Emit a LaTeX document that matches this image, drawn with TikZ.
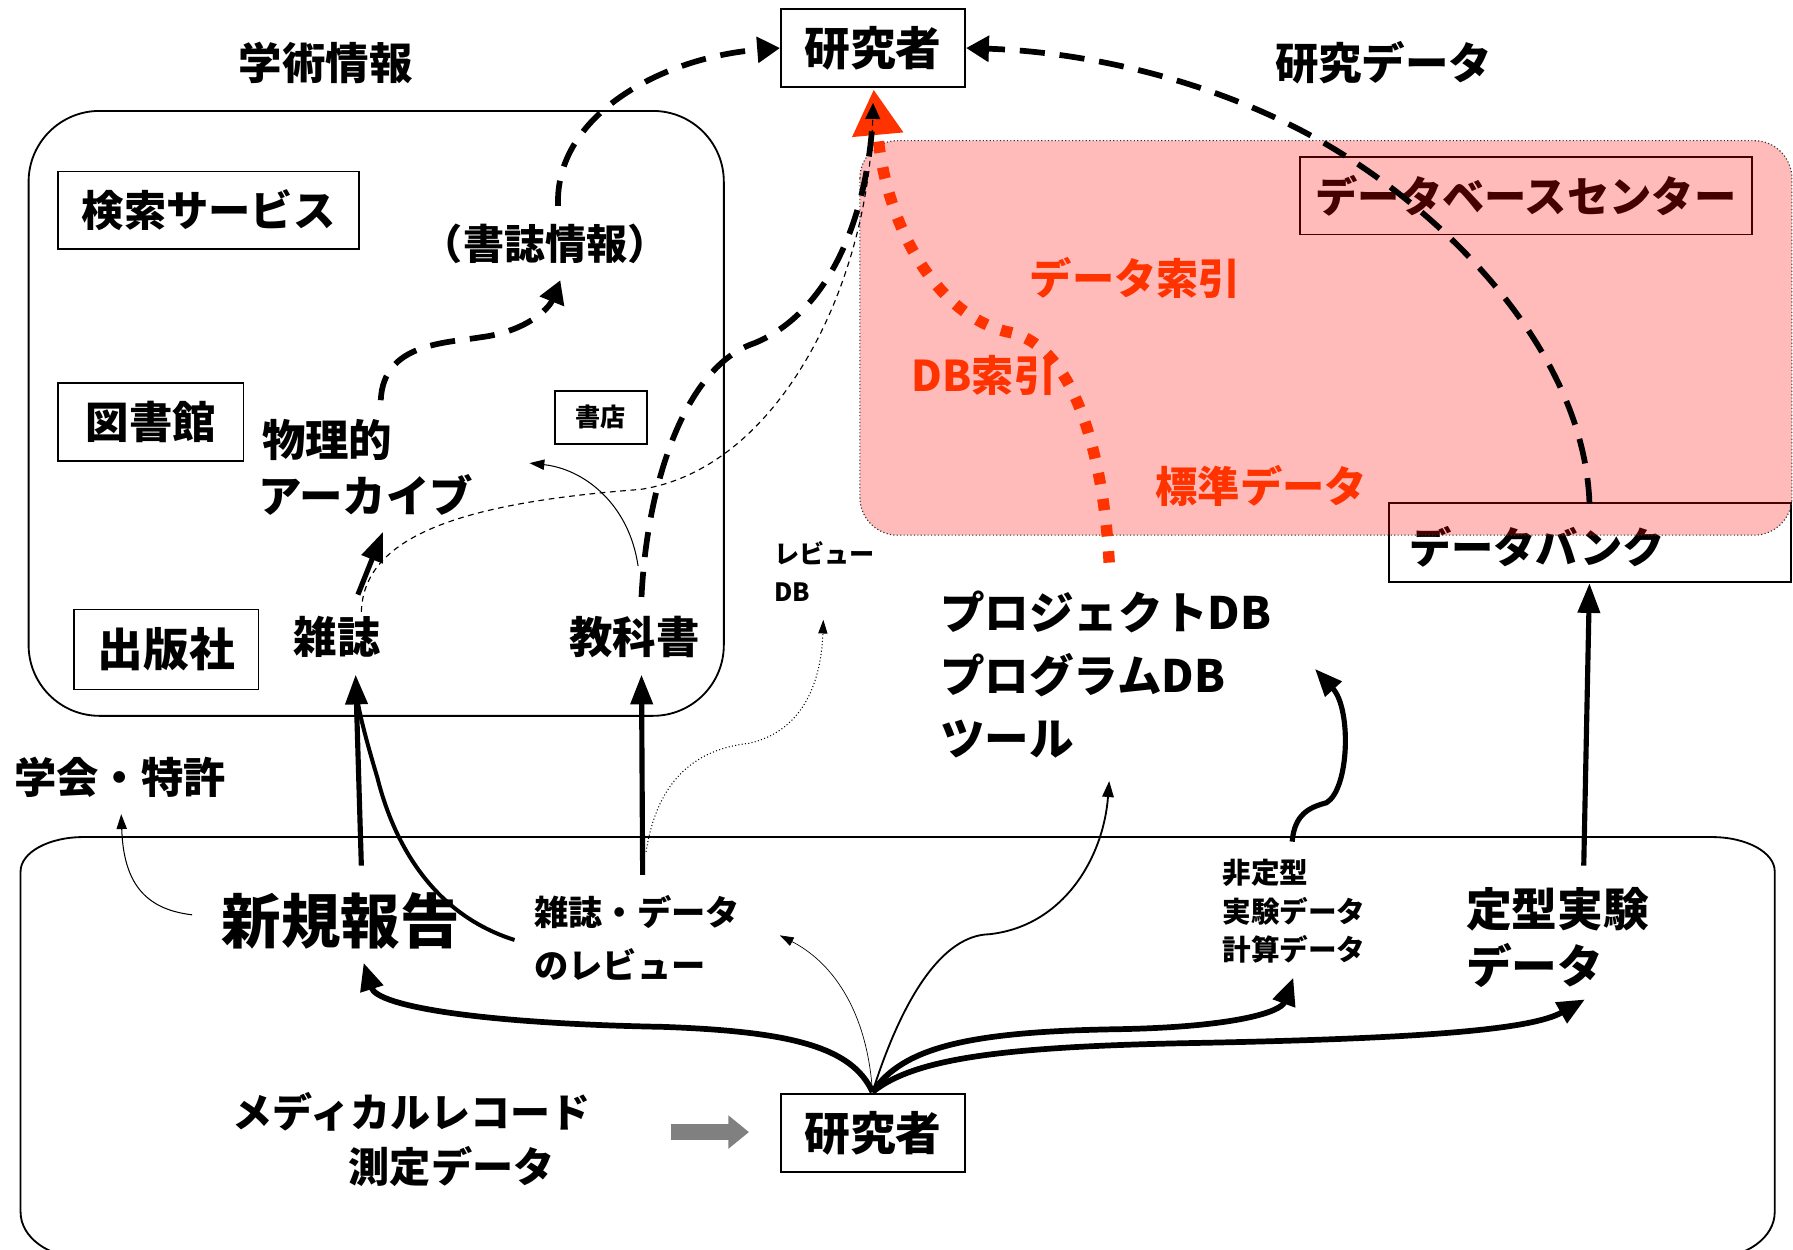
\documentclass[tikz,border=0pt]{standalone}
\usepackage{fontspec}
\setmainfont{Noto Sans CJK JP}
\usetikzlibrary{arrows.meta}
\definecolor{redish}{RGB}{255,51,0}
\definecolor{grayarr}{RGB}{128,128,128}
\newcommand\sz[2]{\fontsize{#1}{#2}\selectfont\bfseries}
\begin{document}
\begin{tikzpicture}[x=1pt,y=-1pt,
  box/.style={draw, line width=1.6pt, inner sep=0pt},
  region/.style={draw, line width=1.6pt},
  tdash/.style={line width=5pt, dash pattern=on 22pt off 13pt},
  rdot/.style={draw=redish, line width=10pt, dash pattern=on 10pt off 13pt},
  solidarr/.style={line width=4.5pt, -{Triangle[length=26pt,width=19pt]}},
  thinarr/.style={line width=0.9pt, -{Triangle[length=13pt,width=9pt]}},
  fan/.style={line width=5pt, -{Triangle[length=24pt,width=20pt]}},
  dtip/.style={-{Triangle[length=20pt,width=22pt]}},
]
\useasboundingbox (0,0) rectangle (1568,1093);
\fill[white] (0,0) rectangle (1568,1093);

% regions
\draw[region, rounded corners=62pt] (25,97) rectangle (633,626);
\draw[region] (18,762) arc[start angle=180,end angle=270,x radius=55,y radius=30] -- (1497,732)
  arc[start angle=270,end angle=360,x radius=55,y radius=30] -- (1552,1060)
  arc[start angle=0,end angle=90,x radius=55,y radius=40] -- (73,1100)
  arc[start angle=90,end angle=180,x radius=55,y radius=40] -- cycle;

% nodes
\node[box, minimum width=161pt, minimum height=68pt, font=\sz{40}{40}] (res1) at (763.5,42) {研究者};
\node[font=\sz{38}{38}] (gakujutsu) at (285,55) {学術情報};
\node[font=\sz{38}{38}] (kdata) at (1210,55) {研究データ};
\node[box, minimum width=263pt, minimum height=68pt, font=\sz{37}{37}] (kensaku) at (182.5,184) {検索サービス};
\node[font=\sz{36}{36}] (shoshi) at (477,213) {（書誌情報）};
\node[box, minimum width=162pt, minimum height=68pt, font=\sz{38}{38}] (tosho) at (132,369) {図書館};
\node[font=\sz{38}{38}, anchor=west, inner sep=0pt] (butsu1) at (229,385) {物理的};
\node[font=\sz{38}{38}, anchor=west, inner sep=0pt] (butsu2) at (226,433) {アーカイブ};
\node[box, minimum width=81pt, minimum height=46pt, font=\sz{22}{22}] (shoten) at (525.5,365) {書店};
\node[box, minimum width=161pt, minimum height=70pt, font=\sz{40}{40}] (shuppan) at (145.5,568) {出版社};
\node[font=\sz{38}{38}] (zasshi) at (295,557) {雑誌};
\node[font=\sz{38}{38}] (kyoka) at (555,557) {教科書};
\node[font=\sz{37}{37}] (gakkai) at (105,680) {学会・特許};
\node[font=\sz{22}{33}, align=left, anchor=west, inner sep=0pt] (rdb) at (677,500) {レビュー\\DB};
\node[font=\sz{39}{55}, align=left, anchor=west, inner sep=0pt] (proj) at (822,590) {プロジェクトDB\\プログラムDB\\ツール};
\node[font=\sz{52}{52}] (shinki) at (298,805) {新規報告};
\node[font=\sz{30}{46}, align=left, anchor=west, inner sep=0pt] (zrev) at (467,820) {雑誌・データ\\のレビュー};
\node[font=\sz{25}{33.5}, align=left, anchor=west, inner sep=0pt] (hitei) at (1069,797) {非定型\\実験データ\\計算データ};
\node[font=\sz{40}{50}, align=left, anchor=west, inner sep=0pt] (teikei) at (1282,820) {定型実験\\データ};
\node[font=\sz{35}{35}] (medical) at (360,972) {メディカルレコード};
\node[font=\sz{36}{36}] (sokutei) at (395,1020) {測定データ};
\node[box, minimum width=161pt, minimum height=68pt, font=\sz{40}{40}] (res2) at (763.5,991) {研究者};
\node[box, minimum width=395pt, minimum height=68pt, font=\sz{37}{37}] (dbc) at (1334.5,171) {データベースセンター};
\node[box, minimum width=351pt, minimum height=69pt] (dbank) at (1390.5,474.5) {};
\node[font=\sz{37}{37}, anchor=west, inner sep=0pt] (dbanktxt) at (1232,478) {データバンク};

% gray block arrow medical -> researcher
\coordinate (gStart) at (587,990);
\coordinate (gEnd) at (655,990);
\draw[grayarr, line width=14.5pt, -{Triangle[length=18pt,width=28pt]}] (gStart) -- (gEnd);

% pink region
\filldraw[fill=red, fill opacity=0.27, draw=black!80, line width=1pt, dotted, rounded corners=33pt] (752,123) rectangle (1567,468);

% red labels
\node[font=\sz{37}{37}, text=redish] (rA) at (993,243) {データ索引};
\node[font=\sz{37}{37}, text=redish, anchor=west, inner sep=0pt] (rB) at (797,328) {DB索引};
\node[font=\sz{37}{37}, text=redish] (rC) at (1103,425) {標準データ};

% coordinates
\coordinate (shoshiTop) at (488,180);
\coordinate (butsuTop) at (333,350);
\coordinate (shoshiBot) at (490,245);
\coordinate (kyokaTop) at (561,522);
\coordinate (resBot) at (763.5,100);
\coordinate (resBotTip) at (763.5,90);
\coordinate (projRed) at (970,492);
\coordinate (redTip) at (764,78);
\coordinate (dbankTop) at (1390,440);
\coordinate (zasshiTop) at (316,535);
\coordinate (zasshiArr) at (313,520);
\coordinate (butsuBot) at (335,465);
\coordinate (kyokaThin) at (558,495);
\coordinate (butsuRight) at (463,405);
\coordinate (shinkiTop) at (316,757);
\coordinate (zasshiBot) at (311,590);
\coordinate (zrevLeft) at (450,822);
\coordinate (zrevTop) at (562,765);
\coordinate (kyokaBot) at (561,590);
\coordinate (dotStart) at (565,745);
\coordinate (rdbBot) at (720,542);
\coordinate (shinkiLeft) at (168,800);
\coordinate (gakkaiBot) at (106,712);
\coordinate (fan) at (763,955);
\coordinate (shinkiBot) at (318,842);
\coordinate (zrevRight) at (682,818);
\coordinate (projBot) at (970,683);
\coordinate (hiteiBot) at (1131,855);
\coordinate (teikeiBot) at (1386,874);
\coordinate (teikeiTop) at (1385,757);
\coordinate (dbankBot) at (1390,510);
\coordinate (hiteiTop) at (1130,736);
\coordinate (projRight) at (1150,585);

% red dotted
\draw[rdot, -{Triangle[length=40pt,width=42pt]}] (projRed) .. controls (965,400) and (940,300) .. (880,290) .. controls (820,275) and (775,200) .. (redTip);

% black dashed
\draw[tdash, dtip] (shoshiTop) .. controls (485,100) and (580,50) .. (res1.west);
\draw[tdash, dtip] (butsuTop) .. controls (335,300) and (390,300) .. (420,295) .. controls (460,290) and (480,270) .. (shoshiBot);
\draw[tdash] (kyokaTop) .. controls (566,420) and (600,320) .. (660,300) .. controls (720,275) and (758,200) .. (resBot);
\draw[tdash, dtip] (dbankTop) .. controls (1385,300) and (1250,170) .. (1130,110) .. controls (1040,65) and (940,45) .. (res1.east);
\draw[line width=1pt, dash pattern=on 5pt off 4pt, -{Triangle[length=14pt,width=13pt]}] (zasshiTop) .. controls (318,470) and (400,440) .. (560,428) .. controls (680,410) and (760,250) .. (resBotTip);

% solid arrows
\draw[solidarr] (zasshiArr) -- (butsuBot);
\draw[thinarr] (kyokaThin) .. controls (550,440) and (510,410) .. (butsuRight);
\draw[solidarr] (shinkiTop) -- (zasshiBot);
\draw[line width=3.5pt] (zrevLeft) .. controls (380,800) and (345,740) .. (330,680) .. controls (318,640) and (312,615) .. (311,600);
\draw[solidarr] (zrevTop) -- (kyokaBot);
\draw[line width=0.9pt, dotted, -{Triangle[length=12pt,width=8pt]}] (dotStart) .. controls (575,680) and (610,655) .. (655,650) .. controls (700,640) and (718,600) .. (rdbBot);
\draw[thinarr] (shinkiLeft) .. controls (125,795) and (108,770) .. (gakkaiBot);

% fan
\draw[fan] (fan) .. controls (745,915) and (690,902) .. (580,898) .. controls (420,895) and (330,880) .. (shinkiBot);
\draw[line width=0.6pt, -{Triangle[length=12pt,width=8pt]}] (fan) .. controls (758,880) and (725,840) .. (zrevRight);
\draw[line width=1.6pt, -{Triangle[length=14pt,width=10pt]}] (fan) .. controls (790,870) and (825,818) .. (865,817) .. controls (930,810) and (965,750) .. (projBot);
\draw[fan] (fan) .. controls (790,915) and (850,902) .. (980,900) .. controls (1080,898) and (1120,885) .. (hiteiBot);
\draw[fan] (fan) .. controls (800,925) and (880,915) .. (1050,912) .. controls (1250,908) and (1340,900) .. (teikeiBot);

\draw[solidarr] (teikeiTop) -- (dbankBot);
\draw[line width=4.5pt, -{Triangle[length=24pt,width=19pt]}] (hiteiTop) .. controls (1132,712) and (1145,706) .. (1160,702) .. controls (1180,690) and (1182,620) .. (projRight);
\end{tikzpicture}
\end{document}
